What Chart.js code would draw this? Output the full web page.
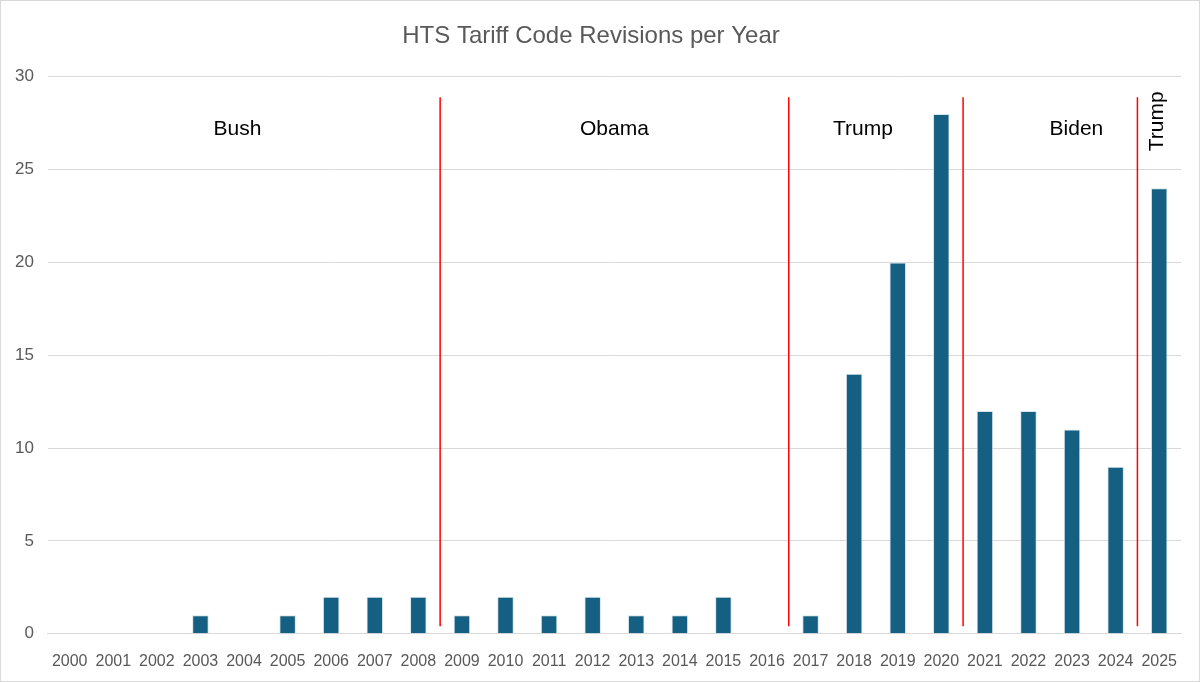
<!DOCTYPE html>
<html lang="en">
  <head>
    <meta charset="UTF-8" />
    <title>HTS Tariff Code Revisions per Year</title>
    <script src="https://cdn.jsdelivr.net/npm/chart.js"></script>
    <style>
      html, body { margin: 0; padding: 0; background: #fff; }
      #wrap { width: 1198px; height: 680px; border: 1px solid #d9d9d9; }
    </style>
  </head>
  <body>
    <div id="wrap"><canvas id="htsChart"></canvas></div>

    <script>
      const years = ["2000","2001","2002","2003","2004","2005","2006","2007","2008","2009","2010","2011","2012",
        "2013","2014","2015","2016","2017","2018","2019","2020","2021","2022","2023","2024","2025"];
      const revisions = [0,0,0,1,0,1,2,2,2,1,2,1,2,1,1,2,0,1,14,20,28,12,12,11,9,24];

      // administration labels: name, x position (category index), y value
      const eraNames = ["Bush", "Obama", "Trump", "Biden", "Trump"];
      const eraX = [3.85, 12.5, 18.2, 23.1, 24.95];
      const eraY = [27.2, 27.2, 27.2, 27.2, 27.6];
      const eraRotated = [false, false, false, false, true];
      // red separators sit between these category indexes
      const boundaries = [8.5, 16.5, 20.5, 24.5];

      const eraPlugin = {
        id: "eras",
        afterDatasetsDraw(chart) {
          const { ctx, scales } = chart;
          const x = scales.x, y = scales.y;
          ctx.save();
          ctx.strokeStyle = "#ff0000";
          ctx.lineWidth = 1.5;
          boundaries.forEach((b) => {
            const px = (x.getPixelForValue(Math.floor(b)) + x.getPixelForValue(Math.ceil(b))) / 2;
            ctx.beginPath();
            ctx.moveTo(px, y.getPixelForValue(28.9));
            ctx.lineTo(px, y.getPixelForValue(0.4));
            ctx.stroke();
          });
          ctx.fillStyle = "#000";
          ctx.font = "21px 'Liberation Sans', Arial, sans-serif";
          ctx.textAlign = "center";
          ctx.textBaseline = "middle";
          eraNames.forEach((name, i) => {
            const fi = Math.floor(eraX[i]);
            const frac = eraX[i] - fi;
            const p0 = x.getPixelForValue(fi);
            const p1 = x.getPixelForValue(fi + 1);
            const px = p0 + (p1 - p0) * frac;
            const py = y.getPixelForValue(eraY[i]);
            ctx.save();
            ctx.translate(px, py);
            if (eraRotated[i]) ctx.rotate(-Math.PI / 2);
            ctx.fillText(name, 0, 0);
            ctx.restore();
          });
          ctx.restore();
        },
      };

      const ctx = document.getElementById("htsChart").getContext("2d");
      new Chart(ctx, {
        type: "bar",
        data: {
          labels: years,
          datasets: [
            {
              label: "Revisions",
              data: revisions,
              backgroundColor: "#156082",
              borderColor: "#d6e4ec",
              borderWidth: 1,
              barPercentage: 0.95,
              categoryPercentage: 0.4,
            },
          ],
        },
        options: {
          responsive: true,
          maintainAspectRatio: false,
          animation: false,
          layout: { padding: { left: 0, right: 18, top: 6, bottom: -8 } },
          plugins: {
            legend: { display: false },
            tooltip: { enabled: false },
            title: {
              display: true,
              text: "HTS Tariff Code Revisions per Year",
              color: "#595959",
              font: { family: "'Liberation Sans', Arial, sans-serif", size: 24, weight: "normal" },
              padding: { top: 15, bottom: 26 },
            },
          },
          scales: {
            x: {
              grid: { display: false, drawTicks: false },
              border: { color: "#d9d9d9", width: 1 },
              ticks: {
                color: "#595959",
                font: { family: "'Liberation Sans', Arial, sans-serif", size: 16 },
                maxRotation: 0,
                autoSkip: false,
                padding: 18,
              },
            },
            y: {
              min: 0,
              max: 30,
              ticks: {
                stepSize: 5,
                color: "#595959",
                font: { family: "'Liberation Sans', Arial, sans-serif", size: 17 },
                padding: 14,
              },
              grid: { color: "#d9d9d9", drawTicks: false },
              border: { display: false },
            },
          },
        },
        plugins: [eraPlugin],
      });
    </script>
  </body>
</html>
